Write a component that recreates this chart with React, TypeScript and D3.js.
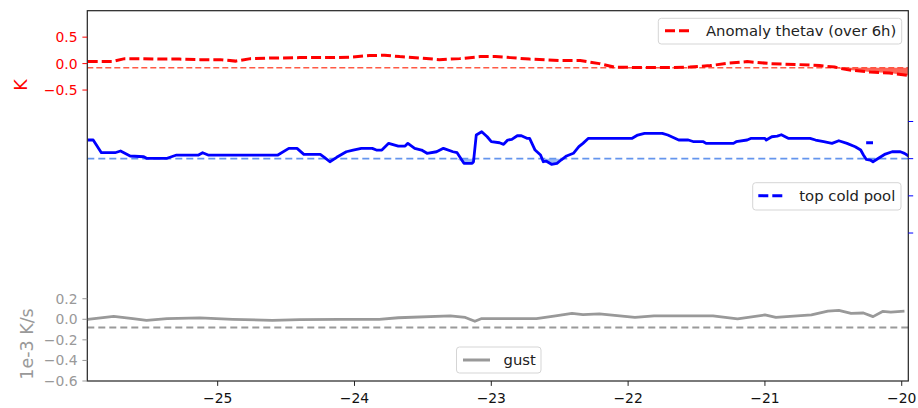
import React from "react";
import * as d3 from "d3";

// ---- data ----
const redX = [-25.95, -25.86, -25.77, -25.68, -25.57, -25.42, -25.28, -25.13, -24.98, -24.87, -24.76, -24.62, -24.40, -24.18, -24.03, -23.89, -23.78, -23.67, -23.52, -23.38, -23.23, -23.08, -22.97, -22.86, -22.72, -22.50, -22.35, -22.21, -22.10, -21.91, -21.70, -21.55, -21.40, -21.26, -21.13, -20.96, -20.75, -20.60, -20.49, -20.38, -20.23, -20.09, -19.95];
const redV = [0.038, 0.038, 0.038, 0.094, 0.094, 0.085, 0.085, 0.075, 0.075, 0.047, 0.094, 0.104, 0.113, 0.113, 0.123, 0.151, 0.160, 0.132, 0.104, 0.075, 0.094, 0.132, 0.132, 0.113, 0.085, 0.057, 0.057, 0.0, -0.066, -0.075, -0.075, -0.066, -0.038, 0.009, 0.038, 0.0, -0.019, -0.038, -0.066, -0.123, -0.160, -0.179, -0.226];
const redRef = -0.08;

const blueX = [-25.95, -25.91, -25.85, -25.75, -25.71, -25.64, -25.54, -25.52, -25.37, -25.30, -25.14, -25.11, -25.07, -24.56, -24.48, -24.42, -24.37, -24.25, -24.22, -24.18, -24.13, -24.06, -24.01, -23.95, -23.87, -23.84, -23.80, -23.75, -23.68, -23.63, -23.61, -23.56, -23.51, -23.47, -23.40, -23.35, -23.28, -23.25, -23.20, -23.14, -23.13, -23.11, -23.07, -23.03, -23.00, -22.94, -22.91, -22.88, -22.85, -22.81, -22.78, -22.74, -22.72, -22.68, -22.64, -22.62, -22.60, -22.56, -22.52, -22.49, -22.45, -22.40, -22.36, -22.33, -22.29, -21.97, -21.93, -21.88, -21.75, -21.71, -21.63, -21.56, -21.52, -21.45, -21.43, -21.23, -21.21, -21.13, -21.10, -21.00, -20.99, -20.95, -20.91, -20.88, -20.83, -20.67, -20.63, -20.57, -20.51, -20.46, -20.40, -20.34, -20.30, -20.28, -20.26, -20.23, -20.21, -20.17, -20.12, -20.07, -20.01, -19.98, -19.95];
const blueV = [0.751, 0.751, 0.580, 0.580, 0.603, 0.536, 0.526, 0.505, 0.505, 0.549, 0.549, 0.580, 0.549, 0.549, 0.639, 0.639, 0.558, 0.558, 0.518, 0.459, 0.518, 0.593, 0.616, 0.639, 0.639, 0.616, 0.616, 0.706, 0.670, 0.670, 0.706, 0.639, 0.616, 0.572, 0.593, 0.639, 0.593, 0.580, 0.438, 0.438, 0.459, 0.818, 0.862, 0.795, 0.728, 0.714, 0.693, 0.751, 0.760, 0.808, 0.808, 0.774, 0.774, 0.616, 0.549, 0.459, 0.468, 0.424, 0.438, 0.482, 0.536, 0.572, 0.661, 0.706, 0.774, 0.774, 0.818, 0.841, 0.841, 0.818, 0.751, 0.751, 0.728, 0.728, 0.706, 0.706, 0.728, 0.751, 0.774, 0.774, 0.751, 0.795, 0.804, 0.822, 0.774, 0.774, 0.751, 0.728, 0.706, 0.741, 0.706, 0.661, 0.616, 0.549, 0.491, 0.482, 0.459, 0.505, 0.562, 0.593, 0.593, 0.572, 0.536];
const blueRef = 0.5;
const coldPoolX = [-20.26, -20.21];
const coldPoolV = [0.714, 0.714];

const grayX = [-25.95, -25.76, -25.62, -25.52, -25.37, -25.13, -24.89, -24.60, -24.40, -24.11, -23.82, -23.68, -23.30, -23.19, -23.12, -23.07, -22.67, -22.53, -22.41, -22.33, -22.21, -21.95, -21.81, -21.38, -21.20, -21.00, -20.92, -20.66, -20.54, -20.46, -20.37, -20.28, -20.21, -20.14, -20.08, -19.98];
const grayV = [0.0, 0.029, 0.007, -0.010, 0.007, 0.014, 0.0, -0.010, -0.003, 0.0, 0.0, 0.015, 0.034, 0.018, -0.019, 0.007, 0.007, 0.034, 0.057, 0.046, 0.053, 0.018, 0.034, 0.034, 0.004, 0.042, 0.018, 0.042, 0.080, 0.087, 0.057, 0.061, 0.026, 0.076, 0.069, 0.080];
const grayRef = -0.08;

const xTicks = [-25, -24, -23, -22, -21, -20];
const redTicks = [0.5, 0.0, -0.5];
const grayTicks = [0.2, 0.0, -0.2, -0.4, -0.6];
const blueTicks = [1.0, 0.5, 0.0, -0.5];

const W = 918, H = 408;
const X0 = 87.3, X1 = 908.3, Y0 = 10.7, Y1 = 381;
const FONT = "DejaVu Sans, sans-serif";
const FS = 13.9;
const LFS = 14.8;
const YLFS = 17.5;

const fmt = (v: number, d: number) => (v < 0 ? "\u2212" : "") + Math.abs(v).toFixed(d);

export default function App() {
  const x = d3.scaleLinear().domain([-25.953, -19.952]).range([X0, X1]);
  const yRed = d3.scaleLinear().domain([-6, 1]).range([Y1, Y0]);
  const yGray = d3.scaleLinear().domain([-0.6, 3.0]).range([Y1, Y0]);
  const yBlue = d3.scaleLinear().domain([-2.49, 2.49]).range([Y1, Y0]);

  const red = redX.map((d, i) => [d, redV[i]] as [number, number]);
  const blue = blueX.map((d, i) => [d, blueV[i]] as [number, number]);
  const gray = grayX.map((d, i) => [d, grayV[i]] as [number, number]);
  const cold = coldPoolX.map((d, i) => [d, coldPoolV[i]] as [number, number]);

  const lineRed = d3.line<[number, number]>().x(d => x(d[0])).y(d => yRed(d[1]));
  const lineBlue = d3.line<[number, number]>().x(d => x(d[0])).y(d => yBlue(d[1]));
  const lineGray = d3.line<[number, number]>().x(d => x(d[0])).y(d => yGray(d[1]));

  const areaRed = d3.area<[number, number]>().x(d => x(d[0])).y0(yRed(redRef)).y1(d => yRed(Math.min(d[1], redRef)));
  const areaBlue = d3.area<[number, number]>().x(d => x(d[0])).y0(yBlue(blueRef)).y1(d => yBlue(Math.min(d[1], blueRef)));

  return (
    <svg width={W} height={H} style={{ position: "absolute", left: 0, top: 0, background: "#fff" }} fontFamily={FONT}>
      <defs>
        <clipPath id="plot">
          <rect x={X0} y={Y0} width={X1 - X0} height={Y1 - Y0} />
        </clipPath>
      </defs>
      <g clipPath="url(#plot)">
        {/* reference lines */}
        <line x1={X0} x2={X1} y1={yRed(redRef)} y2={yRed(redRef)} stroke="#ff5a45" strokeWidth={1.5} strokeDasharray="6,3" />
        <line x1={X0} x2={X1} y1={yBlue(blueRef)} y2={yBlue(blueRef)} stroke="#6495ed" strokeWidth={1.8} strokeDasharray="7,4" />
        <line x1={X0} x2={X1} y1={yGray(grayRef)} y2={yGray(grayRef)} stroke="#9a9a9a" strokeWidth={1.8} strokeDasharray="7,4" />
        {/* fills */}
        <path d={areaRed(red) || ""} fill="#ff4a3a" opacity={0.85} />
        <path d={areaBlue(blue) || ""} fill="#6f9cf0" opacity={0.7} />
        {/* lines */}
        <path d={lineRed(red) || ""} fill="none" stroke="#ff0000" strokeWidth={3} strokeDasharray="10,4" />
        <path d={lineBlue(blue) || ""} fill="none" stroke="#0000ff" strokeWidth={2.8} strokeLinejoin="round" />
        <path d={lineBlue(cold) || ""} fill="none" stroke="#0000ff" strokeWidth={2.8} />
        <path d={lineGray(gray) || ""} fill="none" stroke="#999999" strokeWidth={2.8} strokeLinejoin="round" />
      </g>

      {/* frame */}
      <rect x={X0} y={Y0} width={X1 - X0} height={Y1 - Y0} fill="none" stroke="#222" strokeWidth={1.2} />

      {/* x axis */}
      {xTicks.map(t => (
        <g key={"x" + t}>
          <line x1={x(t)} x2={x(t)} y1={Y1} y2={Y1 + 4.9} stroke="#222" strokeWidth={1} />
          <text x={x(t)} y={Y1 + 21.5} textAnchor="middle" fontSize={FS} fill="#111">{fmt(t, 0)}</text>
        </g>
      ))}

      {/* red left axis */}
      {redTicks.map(t => (
        <g key={"r" + t}>
          <line x1={X0 - 4.9} x2={X0} y1={yRed(t)} y2={yRed(t)} stroke="#ff0000" strokeWidth={1} />
          <text x={X0 - 9.8} y={yRed(t) + 5} textAnchor="end" fontSize={FS} fill="#ff0000">{fmt(t, 1)}</text>
        </g>
      ))}
      <text transform={`translate(27,85) rotate(-90)`} textAnchor="middle" fontSize={YLFS} fill="#ff0000">K</text>

      {/* gray left axis */}
      {grayTicks.map(t => (
        <g key={"g" + t}>
          <line x1={X0 - 4.9} x2={X0} y1={yGray(t)} y2={yGray(t)} stroke="#999" strokeWidth={1} />
          <text x={X0 - 9.8} y={yGray(t) + 5} textAnchor="end" fontSize={FS} fill="#999">{fmt(t, 1)}</text>
        </g>
      ))}
      <text transform={`translate(33,344) rotate(-90)`} textAnchor="middle" fontSize={YLFS} fill="#999">1e-3 K/s</text>

      {/* blue right axis */}
      {blueTicks.map(t => (
        <line key={"b" + t} x1={X1} x2={X1 + 4.9} y1={yBlue(t)} y2={yBlue(t)} stroke="#0000ff" strokeWidth={1} />
      ))}

      {/* legends */}
      <g>
        <rect x={658.3} y={18.3} width={243.4} height={25.7} rx={3} fill="#fff" fillOpacity={0.8} stroke="#d5d5d5" />
        <line x1={665} x2={692} y1={30.7} y2={30.7} stroke="#ff0000" strokeWidth={3} strokeDasharray="10,4" />
        <text x={706} y={36} fontSize={LFS} fill="#222">Anomaly thetav (over 6h)</text>
      </g>
      <g>
        <rect x={752.7} y={182.7} width={148.3} height={27.3} rx={3} fill="#fff" fillOpacity={0.8} stroke="#d5d5d5" />
        <line x1={758.3} x2={785} y1={195.7} y2={195.7} stroke="#0000ff" strokeWidth={3} strokeDasharray="10,4" />
        <text x={799.3} y={201} fontSize={LFS} fill="#222">top cold pool</text>
      </g>
      <g>
        <rect x={456.5} y={347} width={84.5} height={26} rx={3} fill="#fff" fillOpacity={0.8} stroke="#d5d5d5" />
        <line x1={463} x2={490} y1={360} y2={360} stroke="#999999" strokeWidth={3} />
        <text x={503.5} y={365.3} fontSize={LFS} fill="#222">gust</text>
      </g>
    </svg>
  );
}
